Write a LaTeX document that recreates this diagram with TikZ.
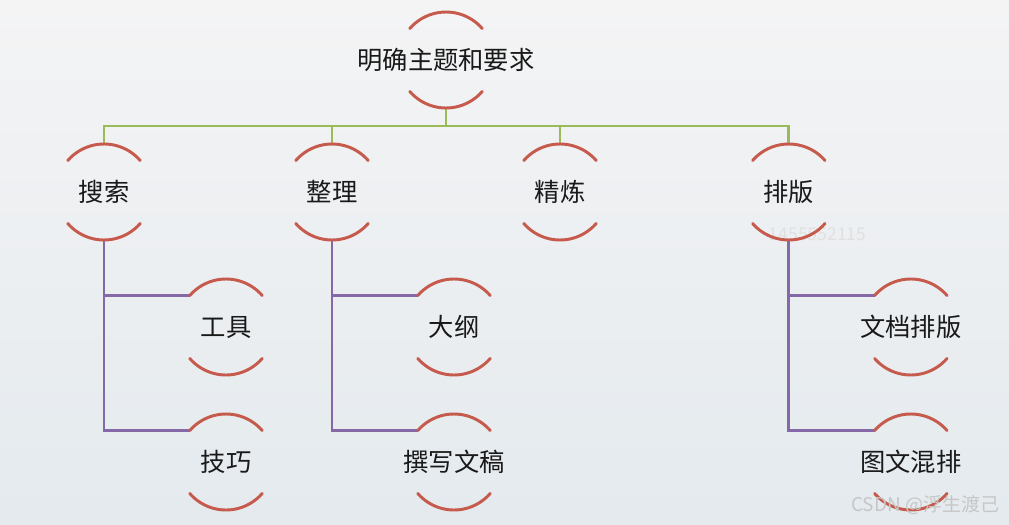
\documentclass[tikz,border=0pt]{standalone}
\usepackage{fontspec}
\setmainfont{Noto Sans CJK SC}
\usetikzlibrary{calc}

\definecolor{arcred}{HTML}{C65A4C}
\definecolor{trunkgreen}{HTML}{9BBB59}
\definecolor{branchpurple}{HTML}{8468A8}
\definecolor{bgtop}{HTML}{F4F4F5}
\definecolor{bgbottom}{HTML}{E4EAEE}

\begin{document}
\begin{tikzpicture}[
  topic/.style={rectangle, minimum size=2.4cm, inner sep=0pt, outer sep=0pt, font=\fontsize{18}{20}\selectfont, text=black!90},
  arcline/.style={draw=arcred, line width=2.1pt, line cap=round},
  trunk/.style={draw=trunkgreen, line width=2.1pt},
  branch/.style={draw=branchpurple, line width=2.1pt},
  watermark/.style={font=\fontsize{12.5}{14}\selectfont, text=gray!24},
]

% === Background ===
\fill[top color=bgtop, bottom color=bgbottom] (0,0) rectangle (25.225,-13.1);
\useasboundingbox (0,0) rectangle (25.225,-13.1);

% === Watermark (under the arcs) ===
\node[watermark, anchor=west] (wmnum) at (19.1, -5.85) {1455552115};

% === Root ===
\node[topic] (root) at (11.15, -1.5) {明确主题和要求};

% === Children (y = -4.8) ===
\node[topic] (search) at (2.6, -4.8) {搜索};
\node[topic] (sort) at (8.3, -4.8) {整理};
\node[topic] (refine) at (14.0, -4.8) {精炼};
\node[topic] (layout) at (19.72, -4.8) {排版};

\coordinate (bar) at (11.15, -3.15);

\draw[trunk] (root.south) -- (root.south |- bar) -| (search.north);
\draw[trunk] (root.south) -- (root.south |- bar) -| (sort.north);
\draw[trunk] (root.south) -- (root.south |- bar) -| (refine.north);
\draw[trunk] (root.south) -- (root.south |- bar) -| (layout.north);

% === Grandchildren ===
\node[topic] (tools) at (5.65, -8.175) {工具};
\node[topic] (tricks) at (5.65, -11.55) {技巧};
\node[topic] (outline) at (11.35, -8.175) {大纲};
\node[topic] (draft) at (11.35, -11.55) {撰写文稿};
\node[topic] (doclayout) at (22.77, -8.175) {文档排版};
\node[topic] (mixlayout) at (22.77, -11.55) {图文混排};

\draw[branch] (search.south) |- ($(tools.center)+(139:1.2)$);
\draw[branch] (search.south) |- ($(tricks.center)+(139:1.2)$);
\draw[branch] (sort.south) |- ($(outline.center)+(139:1.2)$);
\draw[branch] (sort.south) |- ($(draft.center)+(139:1.2)$);
\draw[branch] (layout.south) |- ($(doclayout.center)+(139:1.2)$);
\draw[branch] (layout.south) |- ($(mixlayout.center)+(139:1.2)$);

% === Arcs round every topic ===
\foreach \n in {root,search,sort,refine,layout,tools,tricks,outline,draft,doclayout,mixlayout} {
  \draw[arcline] ($(\n.center)+(41:1.2)$) arc[start angle=41, end angle=139, radius=1.2cm];
  \draw[arcline] ($(\n.center)+(221:1.2)$) arc[start angle=221, end angle=319, radius=1.2cm];
}

% === Site mark ===
\node[font=\fontsize{13.5}{15}\selectfont, text=gray!45, anchor=east] (wmcsdn) at (25.1, -12.62) {CSDN @浮生渡己};

\end{tikzpicture}
\end{document}
